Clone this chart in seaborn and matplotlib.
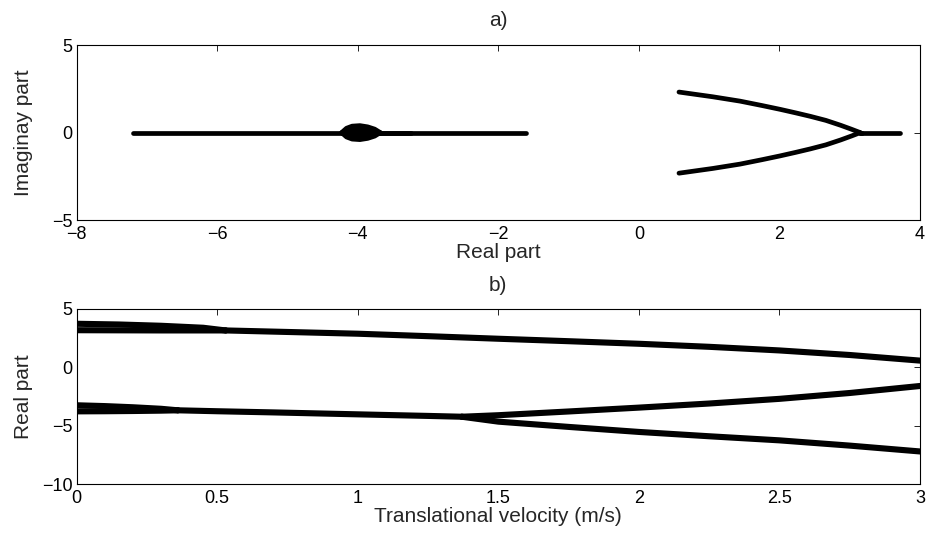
import pandas as pd
import seaborn as sns
import matplotlib.pyplot as plt
from matplotlib.ticker import FormatStrFormatter

# positive eigenvalue pair: two real roots that merge at v ~ 0.53
v_pos_real = [0.0, 0.15, 0.3, 0.45, 0.53]
pos_real_a = [3.72, 3.66, 3.55, 3.38, 3.15]
pos_real_b = [3.17, 3.16, 3.15, 3.15, 3.15]

# ... then a complex-conjugate pair
v_pos_cplx = [0.53, 0.75, 1.0, 1.25, 1.5, 1.75, 2.0, 2.25, 2.5, 2.75, 3.0]
pos_cplx_re = [3.15, 3.02, 2.87, 2.66, 2.44, 2.23, 2.01, 1.75, 1.44, 1.05, 0.57]
pos_cplx_im = [0.0, 0.2, 0.42, 0.7, 0.93, 1.13, 1.33, 1.55, 1.8, 2.05, 2.32]

# negative eigenvalue pair: real roots merging at v ~ 0.36
v_neg_real = [0.0, 0.1, 0.2, 0.3, 0.36]
neg_real_a = [-3.25, -3.32, -3.42, -3.55, -3.68]
neg_real_b = [-3.77, -3.76, -3.74, -3.71, -3.68]

# short complex stretch
v_neg_cplx = [0.36, 0.5, 0.7, 0.9, 1.1, 1.25, 1.37]
neg_cplx_re = [-3.68, -3.76, -3.86, -3.97, -4.08, -4.16, -4.23]
neg_cplx_im = [0.0, 0.2, 0.33, 0.4, 0.37, 0.25, 0.0]

# split again into two real roots at v ~ 1.37
v_neg_split = [1.37, 1.5, 1.75, 2.0, 2.25, 2.5, 2.75, 3.0]
neg_split_up = [-4.23, -4.1, -3.78, -3.45, -3.1, -2.7, -2.2, -1.6]
neg_split_lo = [-4.23, -4.65, -5.1, -5.53, -5.9, -6.25, -6.7, -7.2]

sns.set_theme(style="white")
plt.rcParams['font.family'] = ['Liberation Sans', 'DejaVu Sans']
plt.rcParams.update({
    'xtick.direction': 'in', 'ytick.direction': 'in',
    'xtick.top': True, 'ytick.right': True,
    'xtick.major.size': 4, 'ytick.major.size': 4,
    'xtick.major.width': 0.6, 'ytick.major.width': 0.6,
    'xtick.major.pad': 4, 'ytick.major.pad': 3,
    'axes.linewidth': 0.8, 'axes.edgecolor': 'black',
    'xtick.color': 'black', 'ytick.color': 'black',
    'font.size': 13, 'xtick.labelsize': 13, 'ytick.labelsize': 13,
    'axes.labelsize': 15, 'axes.titlesize': 15,
})

fig = plt.figure(figsize=(9.35, 5.38), dpi=100)
ax1 = fig.add_axes([0.082, 0.591, 0.902, 0.325])
ax2 = fig.add_axes([0.082, 0.100, 0.902, 0.326])

lw1 = 3.4
lw2 = 4.4
kw = dict(color='black', sort=False, estimator=None, solid_capstyle='round', legend=False)

# a) root locus in complex plane
real_roots = [
    (pos_real_a, [0] * len(pos_real_a)),
    (pos_real_b, [0] * len(pos_real_b)),
    (neg_real_a, [0] * len(neg_real_a)),
    (neg_real_b, [0] * len(neg_real_b)),
    (neg_split_up, [0] * len(neg_split_up)),
    (neg_split_lo, [0] * len(neg_split_lo)),
]
for re, im in real_roots:
    sns.lineplot(x=re, y=im, ax=ax1, lw=lw1, **kw)
for sign in (1, -1):
    sns.lineplot(x=pos_cplx_re, y=[sign * i for i in pos_cplx_im], ax=ax1, lw=lw1, **kw)
    sns.lineplot(x=neg_cplx_re, y=[sign * i for i in neg_cplx_im], ax=ax1, lw=lw1, **kw)
ax1.fill_between(neg_cplx_re, neg_cplx_im, [-i for i in neg_cplx_im], color='black', lw=0)

ax1.set_xlim(-8, 4)
ax1.set_ylim(-5, 5)
ax1.set_xticks(range(-8, 5, 2))
ax1.set_yticks([-5, 0, 5])
ax1.set_title('a)', pad=14)
ax1.set_xlabel('Real part', labelpad=0)
ax1.set_ylabel('Imaginay part')

# b) real parts vs velocity
branches = [
    (v_pos_real, pos_real_a), (v_pos_real, pos_real_b), (v_pos_cplx, pos_cplx_re),
    (v_neg_real, neg_real_a), (v_neg_real, neg_real_b), (v_neg_cplx, neg_cplx_re),
    (v_neg_split, neg_split_up), (v_neg_split, neg_split_lo),
]
for v, re in branches:
    sns.lineplot(x=v, y=re, ax=ax2, lw=lw2, **kw)

ax2.set_xlim(0, 3)
ax2.set_ylim(-10, 5)
ax2.set_xticks([0, 0.5, 1, 1.5, 2, 2.5, 3])
ax2.set_yticks([-10, -5, 0, 5])
ax2.xaxis.set_major_formatter(FormatStrFormatter('%g'))
ax2.set_title('b)', pad=13)
ax2.set_xlabel('Translational velocity (m/s)', labelpad=0)
ax2.set_ylabel('Real part')

for ax in (ax1, ax2):
    ax.yaxis.set_label_coords(-0.052, 0.5)
    for s in ax.spines.values():
        s.set_visible(True)
        s.set_color('black')

fig.savefig('out.png', dpi=100)
